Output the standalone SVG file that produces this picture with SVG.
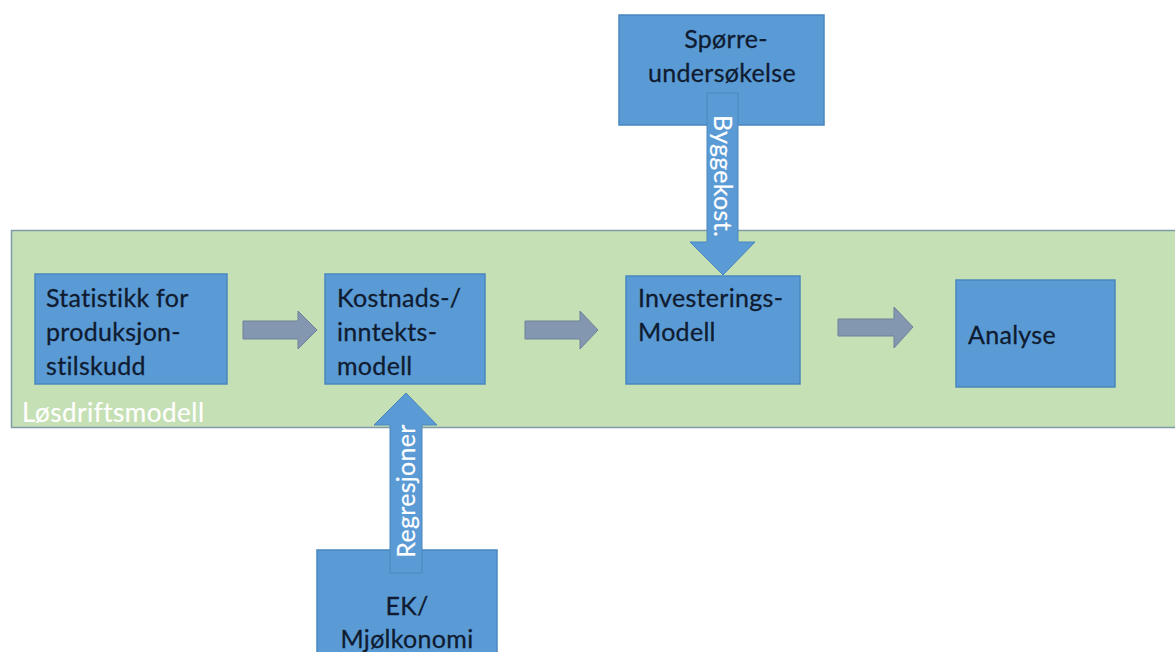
<svg xmlns="http://www.w3.org/2000/svg" width="1175" height="652" viewBox="0 0 1175 652">
<style>
.box{fill:#5B9BD5;stroke:#4A86BE;stroke-width:1.5}
.t{font-family:Lato,"Liberation Sans",sans-serif;font-size:25px;letter-spacing:0.3px;fill:#0F1B30;stroke:#0F1B30;stroke-width:0.3}
.w{font-family:Lato,"Liberation Sans",sans-serif;font-size:25px;letter-spacing:0.3px;fill:#ffffff;stroke:#ffffff;stroke-width:0.2}
.lbl{font-size:26px;letter-spacing:0.5px}
.ga{fill:#8497B0;stroke:#6F819B;stroke-width:1}
.ba{fill:#5B9BD5;stroke:#4A86BE;stroke-width:1}
</style>
<rect width="1175" height="652" fill="#ffffff"/>
<g id="container">
<rect x="11.5" y="230.5" width="1170" height="197" fill="#C5E0B4" stroke="#7F9AA6" stroke-width="1.5"/>
<text class="w lbl" x="22" y="422">Løsdriftsmodell</text>
</g>
<g id="spoerre">
<rect class="box" x="619" y="15" width="205" height="110"/>
<text class="t" x="726" y="48" text-anchor="middle">Spørre-</text>
<text class="t" x="722" y="82" text-anchor="middle">undersøkelse</text>
</g>
<g id="ek">
<rect class="box" x="317" y="550" width="180" height="110"/>
<text class="t" x="407" y="615" text-anchor="middle">EK/</text>
<text class="t" x="407" y="648" text-anchor="middle">Mjølkonomi</text>
</g>
<g id="statistikk">
<rect class="box" x="35" y="274" width="192" height="110"/>
<text class="t" x="46" y="307">Statistikk for</text>
<text class="t" x="46" y="341">produksjon-</text>
<text class="t" x="46" y="375">stilskudd</text>
</g>
<g id="kostnad">
<rect class="box" x="325" y="274" width="160" height="110"/>
<text class="t" x="337" y="307">Kostnads-/</text>
<text class="t" x="337" y="341">inntekts-</text>
<text class="t" x="337" y="375">modell</text>
</g>
<g id="investering">
<rect class="box" x="626" y="276" width="174" height="108"/>
<text class="t" x="638" y="307">Investerings-</text>
<text class="t" x="638" y="341">Modell</text>
</g>
<g id="analyse">
<rect class="box" x="956" y="280" width="159" height="107"/>
<text class="t" x="968" y="344">Analyse</text>
</g>
<g id="connectors">
<polygon class="ga" points="243,321 298,321 298,311 317,330 298,349 298,339 243,339"/>
<polygon class="ga" points="525,321 580,321 580,311 598,330 580,349 580,339 525,339"/>
<polygon class="ga" points="838,319 894,319 894,307 913,327 894,348 894,336 838,336"/>
<polygon class="ba" points="707,93 738,93 738,242 755,242 723,275 690,242 707,242"/>
<text class="w" transform="translate(714,176) rotate(90)" text-anchor="middle">Byggekost.</text>
<polygon class="ba" points="390,573 422,573 422,425 437,425 406,393 374,425 390,425"/>
<text class="w" transform="translate(415,491) rotate(-90)" text-anchor="middle">Regresjoner</text>
</g>
</svg>
